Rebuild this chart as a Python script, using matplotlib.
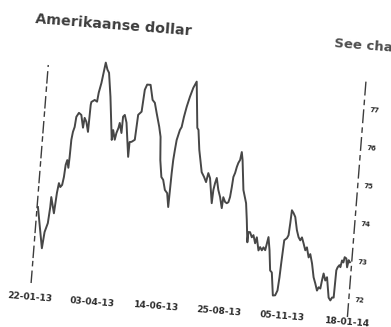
import matplotlib
matplotlib.use('Agg')
import matplotlib.pyplot as plt
import matplotlib.dates as mdates
from matplotlib.transforms import Affine2D, blended_transform_factory
import pandas as pd

# koers in dollarcenten, dagen gerekend vanaf 22-01-13
start = '2013-01-22'
days = [1.0, 9.1, 10.7, 13.6, 14.9, 15.2, 19.6, 21.2, 22.6, 24.5, 26.4, 27.7, 28.6, 30.0, 31.9, 32.4,
        32.8, 33.9, 35.4, 36.4, 39.0, 41.9, 44.9, 45.9, 48.2, 50.9, 51.6, 52.1, 55.7, 58.5, 59.6, 61.8,
        63.4, 64.9, 67.4, 69.5, 73.2, 78.5, 79.3, 81.9, 83.2, 85.1, 86.1, 88.9, 89.3, 91.1, 93.7, 98.6,
        98.9, 101.1, 104.6, 105.4, 106.2, 109.8, 111.5, 113.7, 117.6, 121.2, 124.0, 126.9, 131.1, 133.5,
        135.3, 138.0, 140.3, 143.1, 146.0, 148.4, 148.8, 149.3, 149.9, 150.9, 152.0, 154.8, 156.5, 158.2,
        160.4, 163.2, 166.2, 169.5, 174.3, 175.8, 178.5, 183.2, 186.3, 189.0, 190.8, 193.2, 197.3, 198.0,
        199.3, 200.8, 203.6, 206.2, 209.1, 209.9, 212.3, 214.3, 216.1, 217.5, 218.6, 219.5, 221.1, 222.5,
        223.9, 225.6, 226.8, 228.4, 232.0, 236.2, 238.5, 241.1, 241.4, 243.3, 245.7, 247.4, 250.0, 251.4,
        254.4, 256.0, 258.2, 259.8, 262.0, 263.3, 264.6, 266.9, 269.4, 271.5, 274.7, 277.3, 279.5, 280.6,
        281.3, 282.1, 282.7, 285.6, 287.1, 288.0, 288.7, 290.8, 293.1, 296.1, 298.6, 300.8, 302.5, 304.8,
        307.4, 309.0, 311.8, 313.4, 316.2, 319.2, 321.7, 324.2, 325.8, 327.8, 329.0, 330.2, 332.7, 334.4,
        338.0, 340.2, 341.9, 343.7, 344.1, 344.3, 345.5, 347.3, 348.6, 349.9, 351.6, 352.6, 354.6, 356.2,
        357.4, 359.0]
koers = [73.77, 72.70, 73.13, 73.37, 73.79, 74.06, 73.64, 74.18, 74.44, 74.34, 74.40, 74.61, 74.93, 75.06,
         74.86, 75.15, 75.60, 75.81, 75.94, 76.21, 76.32, 76.27, 75.94, 76.20, 76.10, 75.84, 76.55, 76.63,
         76.69, 76.65, 76.89, 77.15, 77.42, 77.69, 77.51, 77.43, 76.81, 75.68, 75.94, 75.69, 75.87, 76.01,
         76.14, 75.88, 76.31, 76.36, 76.16, 75.27, 75.66, 75.67, 75.73, 76.07, 76.39, 76.48, 77.06, 77.20,
         77.20, 76.81, 76.74, 76.48, 76.12, 75.86, 75.25, 74.81, 74.74, 74.48, 74.40, 74.04, 74.49, 74.93,
         75.28, 75.55, 75.81, 76.08, 76.16, 76.43, 76.70, 76.97, 77.21, 77.38, 76.17, 76.12, 75.60, 75.02,
         74.90, 74.77, 75.01, 74.88, 74.23, 74.58, 74.76, 74.90, 74.59, 74.41, 74.12, 74.41, 74.29, 74.26,
         74.29, 74.43, 74.69, 74.96, 75.07, 75.23, 75.34, 75.42, 75.63, 75.42, 74.64, 74.30, 73.86, 73.28,
         73.55, 73.55, 73.42, 73.48, 73.27, 73.43, 73.09, 73.18, 73.10, 73.18, 73.11, 73.29, 73.46, 73.12,
         72.59, 72.54, 71.94, 71.95, 72.08, 72.43, 72.80, 73.14, 73.41, 73.47, 73.55, 73.87, 74.21, 74.14,
         74.04, 73.70, 73.52, 73.44, 73.52, 73.37, 73.19, 73.27, 73.01, 73.10, 72.86, 72.50, 72.34, 72.16,
         72.25, 72.22, 72.44, 72.62, 72.44, 72.53, 72.00, 71.93, 72.01, 72.01, 72.46, 72.73, 72.81, 72.87,
         72.82, 73.00, 72.95, 73.09, 73.06, 72.83, 73.02, 72.97]
datum_ticks = ['2013-01-22', '2013-04-03', '2013-06-14', '2013-08-25', '2013-11-05', '2014-01-18']
datum_labels = ['22-01-13', '03-04-13', '14-06-13', '25-08-13', '05-11-13', '18-01-14']
y_ticks = [77, 76, 75, 74, 73, 72]
y_labels = ['77', '76', '75', '74', '73', '72']

datums = pd.Timestamp(start) + pd.to_timedelta(days, unit='D')

fig = plt.figure(figsize=(3.91, 3.27), dpi=100)
ax = fig.add_axes([0.1049, 0.0685, 0.8133, 0.7333])
ax.axis('off')
ax.set_xlim(pd.Timestamp(start), pd.Timestamp('2014-01-18'))
ax.set_ylim(71.53, 77.824)

# hele grafiek staat iets scheef
rot = Affine2D().rotate_deg_around(195, 164, -4.5)
hoek = -4.5
ink = '#3c3c3c'

ax.plot(datums, koers, color='#474747', lw=1.4, transform=ax.transData + rot, clip_on=False)

# assen als onderbroken lijnen
ax.plot([0, 0], [0.038, 0.95], color=ink, lw=1.0, ls=(0, (9, 3, 4, 2)),
        transform=ax.transAxes + rot, clip_on=False)
ax.plot([1, 1], [0, 1], color=ink, lw=1.0, ls=(0, (10, 3, 4, 3)),
        transform=ax.transAxes + rot, clip_on=False)

xt = blended_transform_factory(ax.transData, ax.transAxes) + rot
for d, lab in zip(datum_ticks, datum_labels):
    ax.text(mdates.date2num(pd.Timestamp(d)), -0.02, lab, transform=xt, ha='center', va='center',
            rotation=hoek, rotation_mode='anchor', fontsize=6.5, fontweight='bold', color='#2a2a2a')

yt = blended_transform_factory(ax.transAxes, ax.transData) + rot
for v, lab in zip(y_ticks, y_labels):
    ax.text(1.019, v, lab, transform=yt, ha='left', va='center', rotation=hoek,
            rotation_mode='anchor', fontsize=5, fontweight='bold', color='#2a2a2a')

ax.text(-0.0535, 1.1218, 'Amerikaanse dollar', transform=ax.transAxes + rot, ha='left', va='baseline',
        rotation=hoek, rotation_mode='anchor', fontsize=10.3, fontweight='bold', color='#3d3d3d')
ax.text(0.8928, 1.1197, 'See chart', transform=ax.transAxes + rot, ha='left', va='baseline',
        rotation=hoek, rotation_mode='anchor', fontsize=9.5, fontweight='bold', color='#4d4d4d')

fig.savefig('out.png', dpi=100)
